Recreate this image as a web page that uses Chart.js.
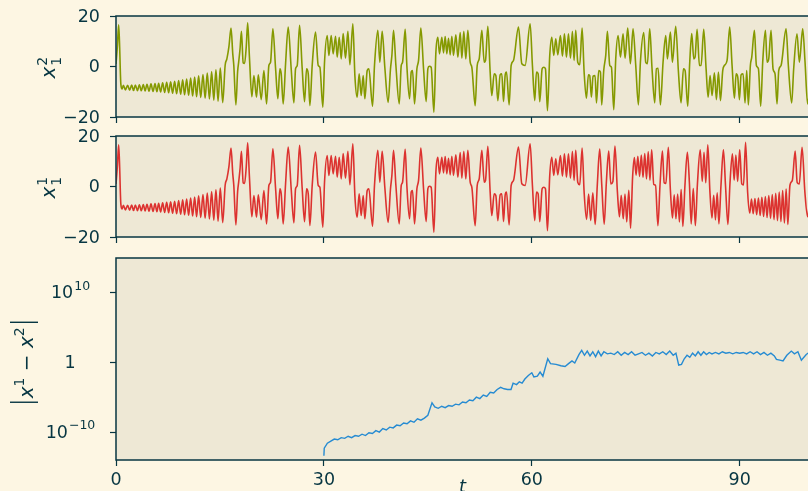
<!DOCTYPE html>
<html>
<head>
<meta charset="utf-8">
<script src="https://cdn.jsdelivr.net/npm/chart.js@4.4.1/dist/chart.umd.min.js"></script>
<style>
  html, body { margin: 0; padding: 0; background: #fdf6e3; width: 808px; height: 491px; overflow: hidden; }
  canvas { position: absolute; left: 0; }
</style>
</head>
<body>
<canvas id="top" width="812" height="125" style="top:0px"></canvas>
<canvas id="mid" width="812" height="125" style="top:120px"></canvas>
<canvas id="bot" width="812" height="249" style="top:242px"></canvas>
<script>
// x_1 for both runs -- identical until the trajectories separate (~t=67)
const sharedEarly = [
  [0,1.0],[0.2,8.0],[0.38,16.5],[0.5,10.0],[0.7,-7.0],[0.88,-8.9],
  [1.06,-7.4],[1.36,-9.3],[1.68,-7.4],[1.97,-9.4],[2.26,-7.3],[2.53,-9.5],[2.8,-7.3],[3.1,-9.6],
  [3.37,-7.2],[3.65,-9.6],[3.94,-7.1],[4.2,-9.7],[4.47,-7.0],[4.76,-9.8],[5.05,-6.9],[5.34,-9.9],
  [5.63,-6.8],[5.9,-10.0],[6.15,-6.7],[6.44,-10.1],[6.73,-6.5],[7.02,-10.3],[7.31,-6.3],[7.6,-10.4],
  [7.88,-6.1],[8.17,-10.6],[8.46,-5.9],[8.75,-10.8],[9.04,-5.6],[9.33,-11.0],[9.62,-5.3],[9.9,-11.2],
  [10.19,-5.0],[10.48,-11.4],[10.77,-4.6],[11.06,-11.7],[11.35,-4.2],[11.63,-12.0],[11.92,-3.7],
  [12.23,-12.3],[12.55,-3.2],[12.86,-12.6],[13.17,-2.6],[13.48,-12.9],[13.8,-2.0],[14.11,-13.3],
  [14.42,-1.3],[14.73,-13.7],[15.05,-0.6],[15.4,-14.3],[15.75,0.5],[16.0,3.0],[16.3,8.0],[16.6,15.2],
  [16.85,5.0],[17.0,0.4],[17.3,-15.2],[17.55,-2.0],[17.7,1.7],[17.9,7.0],[18.1,13.9],[18.35,1.5],
  [18.55,1.2],[18.8,8.0],[19.0,17.3],[19.25,4.0],[19.6,-12.0],[19.9,-3.6],
  [20.28,-12.2],[20.53,-3.3],[20.96,-13.1],[21.34,-1.6],[21.73,-14.8],[22.06,0.4],[22.3,1.7],
  [22.64,14.9],[23.03,-0.9],[23.36,-12.8],[23.65,-0.9],[23.84,-2.9],[24.13,-14.8],[24.47,1.1],
  [24.85,15.6],[25.28,-0.9],[25.67,-14.4],[25.91,-0.9],[26.15,0.4],[26.49,16.3],[26.87,-0.9],
  [27.21,-13.9],[27.5,-0.9],[27.74,-2.9],[27.98,-15.5],[28.31,0.4],[28.79,13.6],[29.18,0.4],
  [29.42,-0.3],[29.85,-16.1],[30.09,1.7],[30.48,12.3],[30.72,4.4],[31.05,12.3],[31.34,5.0],
  [31.68,12.0],[31.92,3.7],[32.21,11.6],[32.5,3.0],[32.78,13.0],[33.12,3.3],[33.46,13.9],[33.75,0.7],
  [34.18,16.9],[34.47,-3.6],[34.8,-12.2],[35.09,-2.9],[35.38,-11.5],[35.67,-3.6],[35.91,-12.8],
  [36.25,-1.6],[36.49,-0.9],[37.02,-15.7],[37.3,0.4],[37.78,14.3],[38.07,1.7],[38.41,13.9],
  [38.79,-0.3],[39.27,-14.2],[39.61,-0.9],[39.81,4.4],[40.05,14.3],[40.39,0.4],[40.87,-14.8],
  [41.16,0.4],[41.35,1.7],[41.73,14.7],[41.97,0.4],[42.36,-12.8],[42.6,-2.2],[42.79,-1.6],
  [43.08,-14.8],[43.42,-0.9],[43.66,2.4],[43.99,15.2],[44.38,-0.9],[44.76,-13.9],[45.0,-0.9],
  [45.2,0.1],[45.48,-0.3],[45.87,-18.1],[46.16,5.7],[46.44,11.6],[46.68,5.0],[47.02,11.6],
  [47.26,5.4],[47.5,11.9],[47.74,5.0],[47.98,11.2],[48.22,4.6],[48.46,12.0],[48.7,4.4],[49.04,12.6],
  [49.33,3.7],[49.67,13.4],[49.91,3.3],[50.19,13.9],[50.48,3.0],[50.77,14.3],[51.11,1.7],
  [51.35,-0.3],[51.83,-15.5],[52.12,0.4],[52.41,3.0],[52.79,14.3],[53.13,1.7],[53.32,2.4],
  [53.66,15.9],[53.99,-2.2],[54.23,-11.5],[54.57,-2.9],[54.81,-3.6],[55.1,-13.5],[55.43,-3.3],
  [55.67,-2.9],[55.92,-13.9],[56.16,-3.3],[56.35,-2.2],[56.73,-15.2],[57.02,0.4],[57.36,2.4],
  [58.08,15.6],[58.56,1.1],[59.04,0.4],[59.76,16.9],[60.09,0.4],[60.43,-13.5],[60.67,-2.2],
  [60.91,-2.9],[61.15,-13.9],[61.49,-0.9],[61.73,-0.3],[61.97,-0.9],[62.26,-17.5],
  [62.59,4.4],[62.88,11.6],[63.17,4.4],[63.46,11.0],[63.75,4.6],[64.13,12.3],[64.42,4.1],
  [64.71,13.0],[65.0,3.7],[65.29,13.0],[65.58,3.3],[65.86,13.9],[66.1,2.4],[66.34,14.3],[66.63,1.7],
  [66.92,0.7],[67.26,15.2]
];

// x_1^2 after the separation
const oliveLate = [
  [67.55,-2.2],[67.88,-12.6],[68.17,-3.3],[68.36,-3.6],[68.6,-12.2],
  [68.84,-3.8],[69.13,-3.6],[69.33,-14.4],[69.66,-1.6],[69.9,-2.2],[70.09,-15.2],[70.38,-1.6],
  [70.67,4.4],[70.91,13.9],[71.25,0.4],[71.49,-0.3],[71.83,-17.1],[72.11,3.0],[72.45,12.3],
  [72.79,3.7],[73.17,13.0],[73.46,3.3],[73.84,15.2],[74.23,1.1],[74.61,14.9],[75.0,0.4],
  [75.38,-15.2],[75.67,1.7],[76.15,13.4],[76.44,1.7],[76.68,1.1],[77.02,14.9],[77.35,-0.9],
  [77.74,-14.4],[77.98,-0.9],[78.22,-0.7],[78.56,-15.2],[78.94,1.7],[79.33,12.3],[79.57,3.0],
  [80.0,13.6],[80.29,1.7],[80.77,15.9],[81.16,-2.2],[81.54,-14.4],[81.88,-0.9],[82.12,-1.6],
  [82.5,-15.7],[82.79,1.7],[83.08,13.0],[83.37,3.0],[83.56,3.7],[83.85,14.7],[84.19,0.4],
  [84.43,0.4],[84.81,14.7],[85.15,-0.9],[85.44,-12.2],[85.73,-3.6],[86.01,-11.5],[86.35,-2.5],
  [86.64,-13.1],[86.93,-2.2],[87.22,-13.5],[87.55,-1.6],[87.79,0.4],[88.18,2.4],[88.56,15.6],
  [88.9,0.4],[89.24,-12.6],[89.48,-2.9],[89.72,-4.2],[89.96,-13.1],[90.2,-3.3],[90.49,-2.9],
  [90.77,-14.4],[91.01,-1.6],[91.25,-15.2],[91.54,0.4],[91.74,3.7],[92.12,14.3],[92.41,0.4],
  [92.7,-0.9],[93.03,-15.7],[93.32,1.7],[93.71,14.3],[93.95,1.7],[94.19,3.0],[94.52,14.3],
  [94.81,-0.9],[95.1,-2.9],[95.39,-14.8],[95.63,-1.6],[95.97,0.4],[96.69,14.9],[97.02,0.4],
  [97.5,-14.4],[97.79,-0.9],[98.27,13.0],[98.61,1.7],[99.09,14.9],[99.43,1.7],[99.8,-14.8],[100,-12.0]
];

// x_1^1 after the separation
const redLate = [
  [67.55,-2.2],[67.9,-13.0],[68.2,-3.0],[68.5,-13.5],[68.8,-2.5],[69.15,-15.0],[69.45,0.5],
  [69.8,14.8],[70.1,0.4],[70.45,-14.9],[70.75,1.2],[71.1,14.0],[71.4,1.0],[71.7,2.0],[72.0,16.0],
  [72.35,-2.0],[72.65,-12.0],[72.9,-3.5],[73.2,-12.8],[73.45,-3.0],[73.7,-14.0],[74.0,-1.5],
  [74.25,-16.5],[74.55,4.0],[74.8,11.5],[75.05,4.5],[75.3,12.0],[75.55,4.0],[75.8,12.5],[76.05,3.6],
  [76.3,13.0],[76.55,3.0],[76.8,13.8],[77.05,2.5],[77.3,14.5],[77.6,0.8],[77.85,0.5],[78.2,-15.5],
  [78.5,0.5],[78.85,14.0],[79.1,1.5],[79.35,1.2],[79.7,15.5],[80.0,-1.5],[80.3,-12.5],[80.55,-3.3],
  [80.8,-12.8],[81.05,-3.0],[81.3,-14.0],[81.55,-1.2],[81.8,-15.8],[82.1,0.5],[82.45,13.5],
  [82.75,1.0],[83.0,-14.8],[83.3,-0.8],[83.6,-15.5],[83.9,1.0],[84.3,14.5],[84.6,2.0],[84.85,13.5],
  [85.1,1.5],[85.4,16.5],[85.7,-2.0],[86.0,-12.5],[86.25,-3.5],[86.5,-13.2],[86.75,-2.5],[87.0,-14.8],
  [87.3,0.5],[87.65,14.5],[87.95,0.5],[88.3,-15.0],[88.6,1.5],[88.95,13.0],[89.2,2.5],[89.45,12.5],
  [89.7,2.0],[90.0,14.5],[90.3,1.0],[90.55,0.6],[90.85,17.5],[91.15,-2.5],[91.45,-10.5],[91.7,-5.0],
  [91.95,-10.8],[92.2,-4.8],[92.45,-11.2],[92.7,-4.6],[92.95,-11.5],[93.2,-4.3],[93.45,-11.9],
  [93.7,-4.0],[93.95,-12.3],[94.2,-3.6],[94.45,-12.7],[94.7,-3.2],[94.95,-13.1],[95.2,-2.7],
  [95.45,-13.5],[95.7,-2.2],[95.95,-13.9],[96.2,-1.6],[96.45,-14.4],[96.7,-1.0],[96.95,-15.0],
  [97.25,0.5],[97.6,2.5],[98.0,14.0],[98.3,1.5],[98.6,1.0],[99.0,15.5],[99.4,-2.0],[99.8,-12.0],[100,-8.0]
];

// log10 |x^1 - x^2|, from t = 30 on
const diffLog10 = [
  [30.0,-13.4],[30.05,-12.3],[30.5,-11.6],[31,-11.3],[31.5,-11.0],[32,-11.1],[32.5,-10.8],
  [33,-10.9],[33.5,-10.6],[34,-10.8],[34.5,-10.5],[35,-10.6],[35.5,-10.3],[36,-10.5],[36.5,-10.1],
  [37,-10.2],[37.5,-9.8],[38,-10.0],[38.5,-9.5],[39,-9.7],[39.5,-9.3],[40,-9.4],[40.5,-9.0],
  [41,-9.1],[41.5,-8.7],[42,-8.8],[42.5,-8.4],[43,-8.6],[43.5,-8.1],[44,-8.3],[44.5,-8.0],
  [45,-7.6],[45.6,-5.8],[46,-6.4],[46.5,-6.6],[47,-6.3],[47.5,-6.5],[48,-6.2],[48.5,-6.3],
  [49,-6.0],[49.5,-6.1],[50,-5.7],[50.5,-5.8],[51,-5.4],[51.5,-5.5],[52,-5.0],[52.5,-5.2],
  [53,-4.7],[53.5,-4.9],[54,-4.3],[54.5,-4.4],[55,-3.9],[55.5,-3.6],[56,-3.8],[56.5,-3.9],
  [57,-3.9],[57.3,-3.0],[57.8,-3.2],[58.2,-2.8],[58.6,-3.0],[59,-2.4],[59.5,-1.9],[60,-1.5],
  [60.3,-2.1],[60.8,-2.0],[61.2,-1.4],[61.6,-2.0],[62.3,0.5],[62.7,-0.2],[63.5,-0.3],[64.2,-0.5],
  [64.8,-0.6],[65.3,-0.2],[65.8,0.2],[66.2,-0.1],[66.8,1.1],[67.2,1.7],[67.6,1.0],[68.0,1.6],
  [68.4,0.9],[68.8,1.5],[69.2,0.8],[69.6,1.6],[70,0.9],[70.4,1.5],[70.9,1.2],[71.4,1.3],[71.9,1.1],
  [72.4,1.5],[72.9,1.0],[73.4,1.4],[73.9,1.1],[74.4,1.5],[74.9,1.0],[75.4,1.2],[75.9,1.4],[76.4,1.0],
  [76.9,1.3],[77.4,0.9],[77.9,1.4],[78.4,1.2],[78.9,1.5],[79.4,1.1],[79.9,1.6],[80.4,1.0],[80.8,1.3],
  [81.2,-0.4],[81.6,-0.3],[82.0,0.5],[82.4,1.0],[82.8,0.7],[83.2,1.3],[83.6,0.9],[84,1.5],[84.4,1.0],
  [84.8,1.5],[85.2,1.1],[85.6,1.4],[86,1.2],[86.5,1.4],[87,1.2],[87.5,1.5],[88,1.3],[88.5,1.4],
  [89,1.2],[89.5,1.4],[90,1.3],[90.5,1.4],[91,1.2],[91.5,1.5],[92,1.2],[92.5,1.5],[93,1.1],
  [93.5,1.4],[94,1.0],[94.5,1.3],[95,0.9],[95.3,0.4],[95.8,0.3],[96.25,0.2],[96.8,1.0],[97.45,1.6],
  [97.9,1.2],[98.4,1.5],[98.9,0.3],[99.6,1.1],[100,1.4]
];

const xTicks = [0, 30, 60, 90];
const linTicks = [-20, 0, 20];
const linTickLabels = ['\u221220', '0', '20'];
const logTicks = [1e-10, 1, 1e10];
const logTickLabels = [['10', '\u221210'], ['1', ''], ['10', '10']];

const INK = '#073642';
const FONT = 'DejaVu Sans';
const TICK_SIZE = 17.5;

function toPoints(pairs) {
  return pairs.map(p => ({ x: p[0], y: p[1] }));
}

// draws text pieces left to right; each piece {t, size, dy, italic}
function drawPieces(ctx, pieces, x0) {
  let x = x0;
  pieces.forEach(p => {
    ctx.font = (p.italic ? 'italic ' : '') + p.size + 'px "' + FONT + '"';
    if (p.t) ctx.fillText(p.t, x, p.dy || 0);
    x += p.adv !== undefined ? p.adv : ctx.measureText(p.t).width;
  });
  return x;
}

const frame = {
  id: 'frame',
  beforeDraw(chart) {
    const { ctx, chartArea: a } = chart;
    ctx.save();
    ctx.fillStyle = '#eee8d5';
    ctx.fillRect(a.left, a.top, a.right - a.left, a.bottom - a.top);
    ctx.restore();
  },
  afterDatasetsDraw(chart) {
    const { ctx, chartArea: a } = chart;
    ctx.save();
    ctx.strokeStyle = INK;
    ctx.lineWidth = 1.5;
    ctx.strokeRect(a.left, a.top, a.right - a.left, a.bottom - a.top);
    ctx.restore();
  },
  afterDraw(chart, args, opts) {
    if (opts.draw) opts.draw(chart);
  }
};

function xScale(showLabels, h) {
  return {
    type: 'linear', min: 0, max: 100,
    afterBuildTicks: s => { s.ticks = xTicks.map(v => ({ value: v })); },
    afterFit: s => { s.height = h; },
    border: { display: false },
    grid: { drawOnChartArea: false, drawTicks: true, tickLength: 6, tickColor: INK, tickWidth: 1.2 },
    ticks: { display: showLabels, color: INK, padding: 4, font: { family: FONT, size: TICK_SIZE } }
  };
}

function yScale(extra, values) {
  return Object.assign({
    afterBuildTicks: s => { s.ticks = values.map(v => ({ value: v })); },
    afterFit: s => { s.width = 116; },
    border: { display: false },
    grid: { drawOnChartArea: false, drawTicks: true, tickLength: 6, tickColor: INK, tickWidth: 1.2 },
    ticks: { display: false }
  }, extra);
}

// tick labels + rotated x_1^k label for the two time-series panels
function linearLabels(sup) {
  return chart => {
    const ctx = chart.ctx;
    const ys = chart.scales.y;
    ctx.save();
    ctx.fillStyle = INK;
    ctx.textAlign = 'right';
    ctx.textBaseline = 'middle';
    ctx.font = TICK_SIZE + 'px "' + FONT + '"';
    linTicks.forEach((v, i) => ctx.fillText(linTickLabels[i], 100, ys.getPixelForValue(v) + 1));
    ctx.textAlign = 'left';
    ctx.textBaseline = 'alphabetic';
    ctx.translate(55, ys.getPixelForValue(0) + 12);
    ctx.rotate(-Math.PI / 2);
    ctx.font = 'italic 20px "' + FONT + '"';
    ctx.fillText('x', 0, 0);
    const w = ctx.measureText('x').width;
    ctx.font = '14px "' + FONT + '"';
    ctx.fillText(sup, w + 1, -8);
    ctx.fillText('1', w + 1, 6);
    ctx.restore();
  };
}

function lineChart(id, pairs, color, sup) {
  return new Chart(document.getElementById(id), {
    type: 'line',
    data: {
      datasets: [{
        data: toPoints(pairs),
        borderColor: color, borderWidth: 1.6, pointRadius: 0,
        cubicInterpolationMode: 'monotone', fill: false
      }]
    },
    options: {
      responsive: false, animation: false, events: [],
      layout: { padding: { top: 16, right: 3, left: 0, bottom: 0 } },
      plugins: { legend: { display: false }, tooltip: { enabled: false }, frame: { draw: linearLabels(sup) } },
      scales: { x: xScale(false, 8), y: yScale({ min: -20, max: 20 }, linTicks) }
    },
    plugins: [frame]
  });
}

lineChart('top', sharedEarly.concat(oliveLate), '#859900', '2');
lineChart('mid', sharedEarly.concat(redLate), '#dc322f', '1');

new Chart(document.getElementById('bot'), {
  type: 'line',
  data: {
    datasets: [{
      data: diffLog10.map(p => ({ x: p[0], y: Math.pow(10, p[1]) })),
      borderColor: '#268bd2', borderWidth: 1.4, pointRadius: 0, fill: false
    }]
  },
  options: {
    responsive: false, animation: false, events: [],
    layout: { padding: { top: 16, right: 3, left: 0, bottom: 0 } },
    plugins: {
      legend: { display: false }, tooltip: { enabled: false },
      frame: {
        draw: chart => {
          const ctx = chart.ctx;
          const ys = chart.scales.y;
          const a = chart.chartArea;
          ctx.save();
          ctx.fillStyle = INK;
          ctx.textBaseline = 'middle';
          // log tick labels with superscripts
          logTicks.forEach((v, i) => {
            const y = ys.getPixelForValue(v);
            const [base, sup] = logTickLabels[i];
            ctx.font = TICK_SIZE + 'px "' + FONT + '"';
            const wb = ctx.measureText(base).width;
            ctx.font = '12.5px "' + FONT + '"';
            const ws = sup ? ctx.measureText(sup).width : 0;
            const x0 = 70 - (wb + ws) / 2;
            ctx.font = TICK_SIZE + 'px "' + FONT + '"';
            ctx.fillText(base, x0, y + 1);
            if (sup) {
              ctx.font = '12.5px "' + FONT + '"';
              ctx.fillText(sup, x0 + wb + 1, y - 6);
            }
          });
          // x axis title
          ctx.textAlign = 'center';
          ctx.textBaseline = 'alphabetic';
          ctx.font = 'italic 18px "' + FONT + '"';
          ctx.fillText('t', (a.left + a.right) / 2, 250);
          // y axis title |x^1 - x^2|
          ctx.textAlign = 'left';
          ctx.translate(33, ys.getPixelForValue(1) + 42);
          ctx.rotate(-Math.PI / 2);
          ctx.strokeStyle = INK;
          ctx.lineWidth = 1.4;
          ctx.beginPath(); ctx.moveTo(2, 5); ctx.lineTo(2, -23); ctx.stroke();
          const end = drawPieces(ctx, [
            { t: '', size: 20, adv: 6 },
            { t: 'x', size: 20, italic: true },
            { t: '1', size: 14, dy: -9 },
            { t: ' \u2212 ', size: 20 },
            { t: 'x', size: 20, italic: true },
            { t: '2', size: 14, dy: -9 }
          ], 0);
          ctx.beginPath(); ctx.moveTo(end + 5, 5); ctx.lineTo(end + 5, -23); ctx.stroke();
          ctx.restore();
        }
      }
    },
    scales: {
      x: xScale(true, 31),
      y: yScale({ type: 'logarithmic', min: 1e-14, max: 8.5e14 }, logTicks)
    }
  },
  plugins: [frame]
});
</script>
</body>
</html>
